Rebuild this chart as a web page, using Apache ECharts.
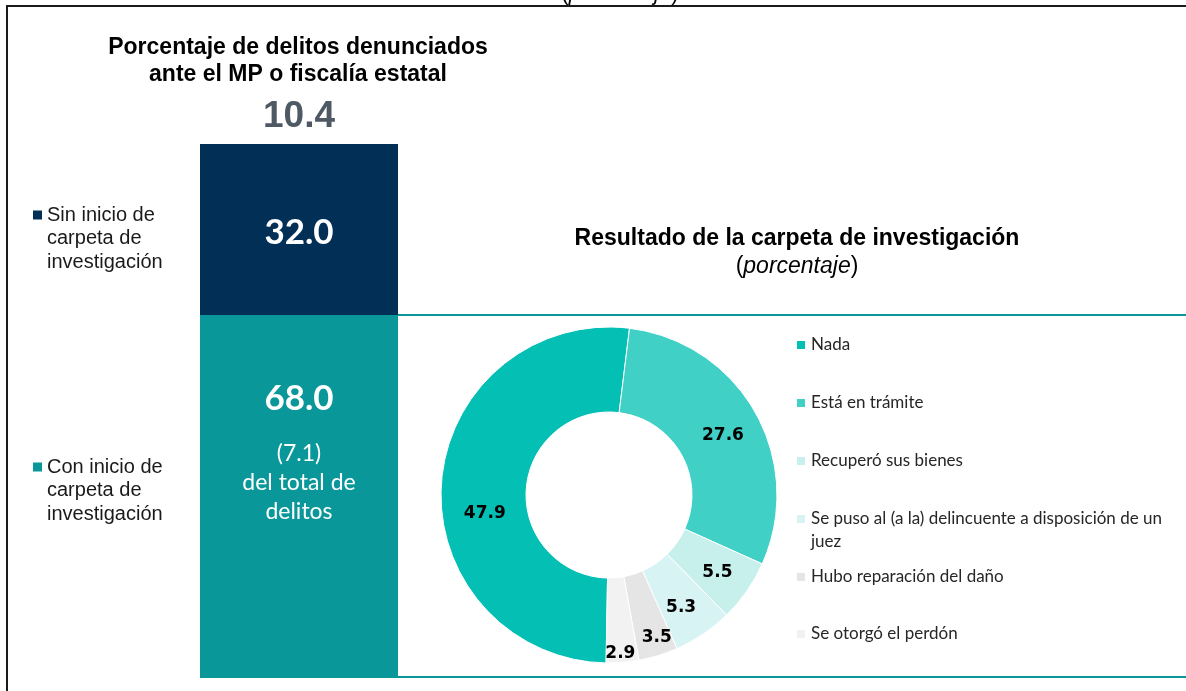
<!DOCTYPE html>
<html><head><meta charset="utf-8">
<script src="https://cdn.jsdelivr.net/npm/echarts@6/dist/echarts.min.js"></script>
<style>html,body{margin:0;padding:0;background:#fff}#c{width:1186px;height:691px}</style>
</head><body><div id="c"></div>
<script>
// ---- data ----
const barCategory = ['Delitos denunciados'];
const sinInicioName = 'Sin inicio de carpeta de investigación';
const conInicioName = 'Con inicio de carpeta de investigación';
const sinInicio = [32.0];
const conInicio = [68.0];
const denunciados = [10.4];
const conInicioDelTotal = [7.1];
const donutNames = ['Nada', 'Está en trámite', 'Recuperó sus bienes',
  'Se puso al (a la) delincuente a disposición de un juez',
  'Hubo reparación del daño', 'Se otorgó el perdón'];
const donutValues = [47.9, 27.6, 5.5, 5.3, 3.5, 2.9];

// ---- styles / layout ----
const donutColors = ['#03BFB4', '#40D0C6', '#C7EFEC', '#D8F3F3', '#E5E5E5', '#F2F2F2'];
const labelNudge = [[4, 28], [2, 4], [3, 4], [0, 6], [10, 20], [1, 30]];
const legendCenters = [345, 403, 461, 519, 577, 634];
const darkBlue = '#022F56', teal = '#0A9799';

// break text into lines no longer than maxChars (word wrap)
function wrap(text, maxChars) {
  const words = text.split(' '); const lines = []; let cur = '';
  words.forEach(w => {
    const t = cur ? cur + ' ' + w : w;
    if (t.length > maxChars && cur) { lines.push(cur); cur = w; } else { cur = t; }
  });
  if (cur) lines.push(cur);
  return lines;
}
// put the legend icon level with the first line: pad with empty lines on top
function firstLineAligned(lines) {
  return '\n'.repeat(lines.length - 1) + lines.join('\n');
}

const chart = echarts.init(document.getElementById('c'));

const pieLH = 23;
const pieLegends = donutNames.map((n, i) => {
  const lines = wrap(n, 50);
  return {
    data: [n], orient: 'vertical', left: 795, padding: 0,
    top: legendCenters[i] - (2 * lines.length - 1) * pieLH / 2,
    icon: 'rect', itemWidth: 10, itemHeight: 10, itemGap: 0, selectedMode: false,
    formatter: () => firstLineAligned(lines),
    textStyle: { fontFamily: 'Lato', fontSize: 17, color: '#262626', lineHeight: pieLH }
  };
});

const leftLH = 23.5;
function barLegend(name, firstCenter) {
  const lines = wrap(name, 13);
  return {
    data: [name], left: 33, padding: 0,
    top: firstCenter - (2 * lines.length - 1) * leftLH / 2,
    icon: 'rect', itemWidth: 9, itemHeight: 9, selectedMode: false,
    formatter: () => firstLineAligned(lines),
    textStyle: { fontFamily: 'Liberation Sans', fontSize: 20, lineHeight: leftLH, color: '#1a1a1a' }
  };
}

const option = {
  animation: false,
  title: [
    { text: 'Porcentaje de delitos denunciados\nante el MP o fiscalía estatal',
      left: 298, top: 34, textAlign: 'center', padding: 0,
      textStyle: { fontFamily: 'Liberation Sans', fontWeight: 'bold', fontSize: 23, lineHeight: 27, color: '#000' } },
    { text: 'Resultado de la carpeta de investigación', subtext: '({i|porcentaje})',
      left: 797, top: 225, textAlign: 'center', padding: 0, itemGap: 0,
      textStyle: { fontFamily: 'Liberation Sans', fontWeight: 'bold', fontSize: 23, lineHeight: 28, color: '#000' },
      subtextStyle: { fontFamily: 'Liberation Sans', fontSize: 23, lineHeight: 28, color: '#000',
        rich: { i: { fontFamily: 'Liberation Sans', fontStyle: 'italic', fontSize: 23, lineHeight: 28, color: '#000' } } } },
    { text: '({i|porcentaje})', left: 620, top: -17, textAlign: 'center', padding: 0,
      textStyle: { fontFamily: 'Liberation Sans', fontSize: 22, lineHeight: 22, fontWeight: 'normal', color: '#000',
        rich: { i: { fontFamily: 'Liberation Sans', fontStyle: 'italic', fontSize: 22, lineHeight: 22, color: '#000' } } } }
  ],
  legend: [barLegend(sinInicioName, 215), barLegend(conInicioName, 467)].concat(pieLegends),
  grid: { left: 200, width: 198, top: 144, bottom: 13, containLabel: false },
  xAxis: { type: 'category', data: barCategory, show: false },
  yAxis: { type: 'value', min: 0, max: 100, show: false },
  series: [
    { name: conInicioName, type: 'bar', stack: 'd', data: conInicio, barWidth: '100%',
      itemStyle: { color: teal },
      label: { show: true, position: 'insideTop', distance: 43,
        formatter: () => '{b|' + conInicio[0].toFixed(1) + '}\n{s|(' + conInicioDelTotal[0].toFixed(1) + ')}\n{s|del total de}\n{s|delitos}',
        rich: { b: { fontFamily: 'Lato', fontWeight: 'bold', fontSize: 35, lineHeight: 81, color: '#fff' },
                s: { fontFamily: 'Lato', fontSize: 23, lineHeight: 29, color: '#fff' } } } },
    { name: sinInicioName, type: 'bar', stack: 'd', data: sinInicio, barWidth: '100%',
      itemStyle: { color: darkBlue },
      label: { show: true, position: 'inside', offset: [0, 3], formatter: p => p.value.toFixed(1),
        fontFamily: 'Lato', fontWeight: 'bold', fontSize: 35, color: '#fff' } },
    { name: 'Denunciados', type: 'bar', stack: 'd', data: [0], barWidth: '100%',
      itemStyle: { color: 'transparent' },
      label: { show: true, position: 'top', distance: 9, formatter: () => denunciados[0].toFixed(1),
        fontFamily: 'Liberation Sans', fontWeight: 'bold', fontSize: 37, color: '#4F5964' } },
    { name: 'Resultado', type: 'pie', center: [609, 495], radius: [83, 168], startAngle: -91, clockwise: true,
      avoidLabelOverlap: false,
      itemStyle: { borderColor: '#fff', borderWidth: 1 },
      label: { show: true, position: 'inside', formatter: p => p.value.toFixed(1),
        fontFamily: 'DejaVu Sans', fontWeight: 'bold', fontSize: 17, color: '#000' },
      labelLine: { show: false },
      data: donutNames.map((n, i) => ({ name: n, value: donutValues[i],
        itemStyle: { color: donutColors[i] }, label: { offset: labelNudge[i] } })) }
  ]
};
chart.setOption(option);

// frame and connector lines, from the bar's pixel extents
const yTop = chart.convertToPixel({ yAxisIndex: 0 }, conInicio[0]);
const yBot = chart.convertToPixel({ yAxisIndex: 0 }, 0);
const xRight = 200 + 198;
chart.setOption({
  graphic: [
    { type: 'rect', shape: { x: 7, y: 6, width: 1300, height: 800 }, style: { fill: 'none', stroke: '#1a1a1a', lineWidth: 2 }, z: 10 },
    { type: 'line', shape: { x1: xRight, y1: yTop, x2: 1186, y2: yTop }, style: { stroke: teal, lineWidth: 2 }, z: 10 },
    { type: 'line', shape: { x1: xRight, y1: yBot - 1, x2: 1186, y2: yBot - 1 }, style: { stroke: teal, lineWidth: 2 }, z: 10 }
  ]
});
</script></body></html>
